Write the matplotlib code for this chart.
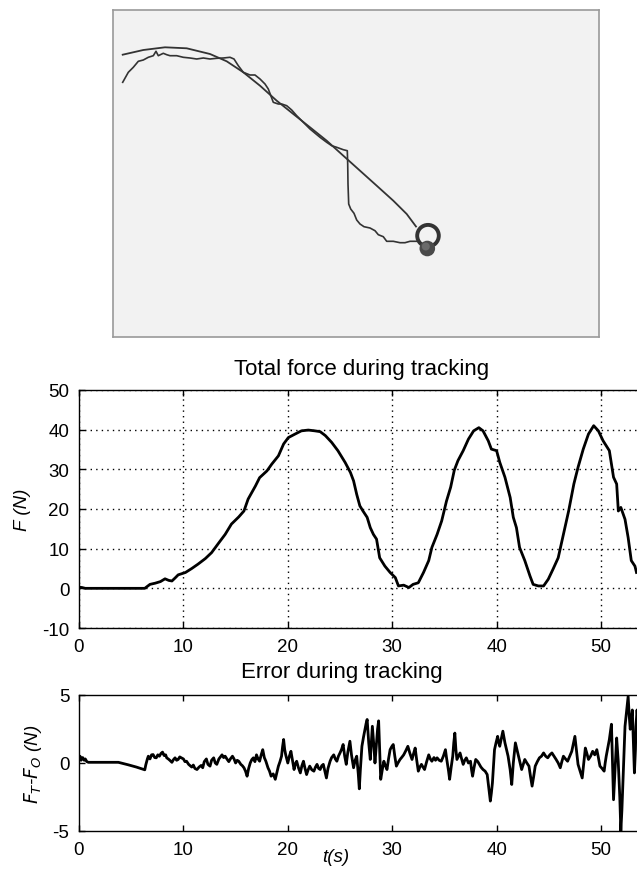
import numpy as np
import matplotlib.pyplot as plt
from matplotlib.patches import Circle

plt.rcParams['font.family'] = ['Liberation Sans', 'DejaVu Sans']
plt.rcParams['axes.unicode_minus'] = False

# %% WORKSPACE VIEW (screen pixels)

# Target trajectory
target_x = [122.7, 143.3, 165.0, 186.7, 210.0, 226.7, 243.3, 260.0, 276.7, 293.3,
            310.0, 326.7, 343.3, 360.0, 376.7, 393.3, 406.7, 416.0]
target_y = [55.7, 51.0, 48.3, 49.3, 55.0, 62.3, 73.3, 86.7, 101.7, 115.0,
            128.3, 141.7, 156.7, 171.7, 186.7, 201.7, 215.0, 227.5]

# Hand path
path_x = [122.7, 128.3, 133.3, 138.3, 143.3, 148.3, 153.3, 156.0, 158.3, 163.3,
          166.7, 170.0, 176.7, 183.3, 190.0, 196.7, 203.3, 210.0, 216.7, 223.3,
          230.0, 234.0, 238.3, 243.3, 250.0, 255.0, 260.0, 265.0, 268.3, 273.3,
          278.3, 281.7, 286.7, 291.7, 296.7, 303.3, 310.0, 320.0, 326.7, 331.7,
          336.7, 343.3, 347.3, 347.7, 348.0, 348.7, 350.7, 354.0, 356.7, 360.0,
          364.0, 370.0, 375.0, 378.3, 383.3, 386.7, 393.3, 400.0, 405.0, 410.0,
          415.0, 418.3]
path_y = [83.3, 73.3, 68.3, 62.3, 61.0, 58.3, 56.7, 52.3, 56.7, 54.3,
          55.7, 56.7, 56.7, 58.3, 59.0, 60.0, 59.0, 60.0, 59.3, 59.0,
          58.3, 60.0, 66.7, 73.3, 76.0, 76.0, 80.0, 85.0, 90.0, 103.3,
          105.0, 105.0, 106.7, 111.0, 116.7, 123.3, 130.0, 138.3, 143.3, 146.7,
          148.3, 150.7, 151.7, 165.0, 185.0, 205.0, 210.0, 214.3, 221.0, 225.0,
          227.7, 229.0, 231.7, 235.7, 237.7, 242.3, 242.3, 243.7, 243.7, 242.3,
          242.3, 242.3]

ring_xy = (428.0, 236.7)
ball_xy = (427.3, 249.5)

# %% FORCE DATA

t_force = [0, 0.3, 0.6, 1.0, 2.0, 3.0, 4.0, 5.0, 6.3, 6.8, 7.3, 7.8, 8.24, 8.6,
           8.9, 9.2, 9.5, 10.2, 10.8, 11.4, 12.1, 12.7, 13.4, 14.0, 14.6, 15.3,
           15.8, 16.2, 16.9, 17.3, 18.0, 18.46, 19.1, 19.6, 20.05, 20.7, 21.3,
           21.96, 22.6, 23.1, 23.6, 24.2, 24.8, 25.5, 26.0, 26.3, 26.6, 26.9,
           27.2, 27.6, 27.9, 28.2, 28.5, 28.8, 29.3, 29.8, 30.3, 30.6, 31.1,
           31.6, 32.0, 32.5, 33.0, 33.5, 33.8, 34.3, 34.74, 35.2, 35.6, 35.95,
           36.3, 36.8, 37.3, 37.8, 38.3, 38.7, 39.2, 39.5, 40.0, 40.3, 40.8,
           41.3, 41.6, 41.9, 42.2, 42.7, 43.2, 43.5, 44.0, 44.5, 44.95, 45.4,
           45.9, 46.4, 46.9, 47.4, 47.8, 48.3, 48.8, 49.3, 49.75, 50.2, 50.8,
           51.2, 51.5, 51.66, 51.9, 52.3, 52.6, 52.9, 53.25, 53.4]
F_total = [0.3, 0.2, 0.0, 0.0, 0.0, 0.0, 0.0, 0.0, 0.0, 1.0, 1.3, 1.7, 2.4, 2.0,
           1.85, 2.6, 3.4, 4.0, 5.0, 6.1, 7.5, 9.0, 11.5, 13.6, 16.2, 18.0,
           19.5, 22.5, 25.8, 27.9, 29.6, 31.3, 33.4, 36.4, 38.0, 38.9, 39.7,
           39.9, 39.7, 39.5, 38.5, 36.8, 34.7, 31.7, 29.2, 27.1, 23.7, 20.8,
           19.5, 17.9, 15.3, 13.6, 12.4, 7.7, 5.6, 4.0, 2.7, 0.6, 0.8,
           0.2, 1.0, 1.4, 4.0, 7.0, 10.3, 13.6, 17.0, 22.0, 25.5, 29.8,
           32.2, 34.7, 37.6, 39.7, 40.5, 39.7, 37.2, 35.1, 34.7, 31.8, 28.0,
           22.9, 17.9, 15.3, 10.3, 7.0, 3.1, 1.0, 0.6, 0.6, 2.3, 4.8,
           7.7, 13.6, 19.5, 26.3, 30.5, 35.1, 38.9, 41.0, 39.7, 37.2, 34.7,
           28.0, 26.3, 19.5, 20.4, 17.4, 12.8, 7.0, 5.6, 4.0]

# %% ERROR DATA

t_err = [0.0, 0.1, 0.2, 0.35, 0.5, 0.6, 0.75, 0.9, 3.77, 4.7, 5.5, 6.3,
         6.4, 6.55, 6.64, 6.8, 6.95, 7.1, 7.25, 7.4, 7.55, 7.7, 7.85, 8.0,
         8.15, 8.3, 8.4, 8.55, 8.7, 8.9, 9.05, 9.2, 9.35, 9.5, 9.65, 9.8,
         10.0, 10.15, 10.3, 10.5, 10.65, 10.8, 10.95, 11.1, 11.3, 11.5, 11.7, 11.85,
         12.0, 12.2, 12.35, 12.55, 12.7, 12.9, 13.05, 13.2, 13.4, 13.55, 13.7, 13.85,
         14.0, 14.2, 14.35, 14.5, 14.7, 14.85, 15.0, 15.15, 15.3, 15.5, 15.65, 15.8,
         15.95, 16.1, 16.25, 16.4, 16.55, 16.7, 16.85, 17.0, 17.15, 17.3, 17.45, 17.6,
         17.75, 17.9, 18.1, 18.25, 18.4, 18.6, 18.8, 18.95, 19.1, 19.25, 19.4, 19.5,
         19.6, 19.7, 19.8, 19.9, 20.0, 20.15, 20.3, 20.45, 20.6, 20.7, 20.85, 21.0,
         21.2, 21.35, 21.5, 21.65, 21.8, 21.95, 22.1, 22.3, 22.5, 22.65, 22.8, 22.95,
         23.1, 23.25, 23.4, 23.55, 23.7, 23.85, 24.05, 24.2, 24.4, 24.55, 24.7, 24.85,
         25.0, 25.15, 25.3, 25.45, 25.6, 25.75, 25.95, 26.1, 26.3, 26.45, 26.6, 26.75,
         26.85, 26.95, 27.1, 27.25, 27.4, 27.5, 27.6, 27.75, 27.9, 28.0, 28.1, 28.25,
         28.35, 28.5, 28.6, 28.7, 28.8, 28.9, 29.05, 29.2, 29.35, 29.5, 29.65, 29.8,
         29.95, 30.1, 30.25, 30.4, 30.55, 30.75, 30.9, 31.1, 31.3, 31.5, 31.7, 31.9,
         32.05, 32.2, 32.35, 32.5, 32.65, 32.8, 32.95, 33.1, 33.3, 33.5, 33.65, 33.8,
         34.0, 34.15, 34.3, 34.5, 34.7, 34.9, 35.1, 35.2, 35.3, 35.4, 35.5, 35.65,
         35.8, 35.9, 36.0, 36.1, 36.2, 36.35, 36.5, 36.65, 36.8, 36.95, 37.1, 37.3,
         37.5, 37.6, 37.7, 37.85, 38.0, 38.2, 38.35, 38.5, 38.7, 38.9, 39.1, 39.25,
         39.4, 39.5, 39.6, 39.7, 39.8, 39.95, 40.1, 40.2, 40.3, 40.45, 40.6, 40.7,
         40.8, 40.95, 41.1, 41.3, 41.45, 41.6, 41.8, 41.95, 42.1, 42.25, 42.4, 42.55,
         42.7, 42.9, 43.1, 43.25, 43.4, 43.55, 43.7, 43.9, 44.1, 44.3, 44.5, 44.7,
         44.9, 45.1, 45.3, 45.5, 45.7, 45.9, 46.1, 46.25, 46.4, 46.6, 46.8, 47.0,
         47.2, 47.35, 47.5, 47.65, 47.8, 48.0, 48.2, 48.35, 48.5, 48.65, 48.8, 49.0,
         49.2, 49.4, 49.6, 49.75, 49.9, 50.1, 50.3, 50.4, 50.5, 50.65, 50.8, 50.9,
         51.0, 51.1, 51.2, 51.35, 51.5, 51.65, 51.8, 51.9, 52.0, 52.1, 52.2, 52.3,
         52.45, 52.6, 52.7, 52.8, 52.9, 53.0, 53.1, 53.2, 53.3, 53.35, 53.45, 53.55]
F_err = [0.26, 0.5, 0.2, 0.4, 0.2, 0.3, 0.1, 0.05, 0.05, -0.13, -0.3, -0.5,
         -0.13, 0.3, 0.5, 0.3, 0.6, 0.62, 0.4, 0.38, 0.6, 0.5, 0.7, 0.8,
         0.55, 0.6, 0.38, 0.3, 0.2, 0.05, 0.25, 0.38, 0.2, 0.26, 0.45, 0.38,
         0.3, 0.1, 0.13, -0.1, -0.2, -0.3, -0.15, -0.4, -0.48, -0.3, -0.18, -0.35,
         0.1, 0.3, -0.1, -0.23, 0.2, 0.38, 0.0, -0.1, 0.3, 0.45, 0.6, 0.4,
         0.5, 0.26, 0.1, 0.3, 0.5, 0.3, 0.0, 0.2, 0.13, -0.1, -0.2, -0.35,
         -0.6, -0.97, -0.4, 0.0, 0.25, 0.38, 0.1, 0.6, 0.3, 0.13, 0.6, 0.98,
         0.4, 0.13, -0.35, -0.6, -0.97, -0.8, -1.2, -0.7, -0.23, 0.1, 0.5, 1.2,
         1.73, 1.0, 0.6, 0.3, 0.0, 0.5, 0.86, 0.2, -0.48, -0.1, 0.13, -0.3,
         -0.73, -0.2, 0.13, -0.4, -0.85, -0.5, -0.23, -0.5, -0.6, -0.3, -0.1, -0.4,
         -0.48, -0.2, -0.1, -0.6, -1.1, -0.4, 0.13, 0.4, 0.6, 0.3, 0.13, 0.5,
         0.74, 1.0, 1.36, 0.5, -0.1, 0.8, 1.6, 0.6, -0.35, 0.2, 0.5, -0.8,
         -1.9, -0.5, 1.23, 1.9, 2.48, 2.9, 3.2, 1.5, 0.26, 1.5, 2.7, 1.2,
         0.0, 1.5, 2.5, 3.1, 1.0, -1.2, -0.5, 0.13, -0.2, -0.48, 0.3, 0.98,
         1.2, 1.36, 0.5, -0.23, 0.0, 0.26, 0.4, 0.6, 0.9, 1.23, 0.7, 0.26,
         0.7, 1.1, 0.2, -0.6, -0.3, -0.1, -0.3, -0.48, 0.1, 0.6, 0.3, 0.13,
         0.4, 0.2, 0.38, 0.2, 0.13, 0.5, 0.98, 0.4, -0.1, -0.6, -1.2, -0.3,
         0.5, 1.5, 2.2, 1.0, 0.26, 0.5, 0.74, 0.3, -0.1, 0.2, 0.38, 0.0,
         0.13, -0.5, -0.97, -0.3, 0.26, 0.1, -0.1, -0.3, -0.48, -0.6, -0.85, -1.8,
         -2.8, -2.2, -1.46, -0.2, 0.98, 1.5, 1.96, 1.5, 1.23, 1.8, 2.34, 1.9,
         1.48, 1.0, 0.5, -0.5, -1.58, 0.0, 1.48, 1.0, 0.5, 0.0, -0.48, -0.1,
         0.26, 0.0, -0.23, -1.0, -1.7, -1.0, -0.23, 0.1, 0.38, 0.5, 0.74, 0.5,
         0.38, 0.6, 0.74, 0.5, 0.26, 0.0, -0.35, 0.1, 0.5, 0.3, 0.13, 0.5,
         0.86, 1.4, 1.96, 0.9, -0.1, -0.6, -1.1, 0.0, 1.1, 0.7, 0.26, 0.5,
         0.86, 0.6, 0.98, 0.4, -0.23, -0.4, -0.6, 0.0, 0.5, 1.1, 1.73, 2.3,
         2.85, 0.0, -2.7, -0.5, 1.84, 0.13, -2.5, -5.0, -3.5, -1.46, 0.6, 2.7,
         3.8, 4.9, 3.5, 2.48, 3.2, 3.9, 1.5, -0.73, 1.0, 2.7, 3.9, 3.0]

# %% PLOT

W, H = 637, 870
fig = plt.figure(figsize=(W / 100, H / 100), dpi=100)

# Workspace view
ax0 = fig.add_axes([113 / W, 1 - 338 / H, 486 / W, 327 / H])
ax0.set_facecolor('#f2f2f2')
for s in ax0.spines.values():
    s.set_color('#9a9a9a')
    s.set_linewidth(1.2)
ax0.set_xticks([])
ax0.set_yticks([])
ax0.set_xlim(113, 599)
ax0.set_ylim(338, 11)
ax0.plot(target_x, target_y, color='#333333', lw=1.3)
ax0.plot(path_x, path_y, color='#333333', lw=1.2)
ax0.add_patch(Circle(ring_xy, 10.8, fill=False, ec='#333333', lw=2.8))
ax0.add_patch(Circle(ball_xy, 7.8, fc='#4a4a4a', ec='none'))
ax0.add_patch(Circle((ball_xy[0] - 1.5, ball_xy[1] - 2), 4.0, fc='#6a6a6a', ec='none'))

# Total force
x0 = 79
pxs = 10.44
tmax = 54.2
ax1 = fig.add_axes([x0 / W, 1 - 629 / H, tmax * pxs / W, 238 / H])
ax1.plot(t_force, F_total, 'k-', lw=2.0)
ax1.set_xlim(0, tmax)
ax1.set_ylim(-10, 50)
ax1.set_xticks([0, 10, 20, 30, 40, 50])
ax1.set_yticks([-10, 0, 10, 20, 30, 40, 50])
ax1.grid(True, color='k', linestyle=(0, (1, 3)), linewidth=1.0)
ax1.set_ylabel('F (N)', fontsize=13.5, style='italic', labelpad=8)
ax1.tick_params(direction='in', length=4, width=1, labelsize=13.5, pad=7,
                top=True, right=True)
for s in ax1.spines.values():
    s.set_linewidth(1.0)
fig.text(362 / W, 1 - 370 / H, 'Total force during tracking', fontsize=16,
         ha='center', va='center')

# Tracking error
ax2 = fig.add_axes([x0 / W, 1 - 832 / H, tmax * pxs / W, 136 / H])
ax2.plot(t_err, F_err, 'k-', lw=2.0)
ax2.set_xlim(0, tmax)
ax2.set_ylim(-5, 5)
ax2.set_xticks([0, 10, 20, 30, 40, 50])
ax2.set_yticks([-5, 0, 5])
ax2.set_ylabel(r'$F_T$-$F_O$ (N)', fontsize=13.5, style='italic', labelpad=6)
ax2.tick_params(direction='in', length=4, width=1, labelsize=13.5, pad=7,
                top=True, right=True)
for s in ax2.spines.values():
    s.set_linewidth(1.0)
fig.text(342 / W, 1 - 673 / H, 'Error during tracking', fontsize=16,
         ha='center', va='center')
fig.text(336 / W, 1 - 858 / H, 't(s)', fontsize=13.5, style='italic',
         ha='center', va='center')

plt.savefig('out.png', dpi=100)
